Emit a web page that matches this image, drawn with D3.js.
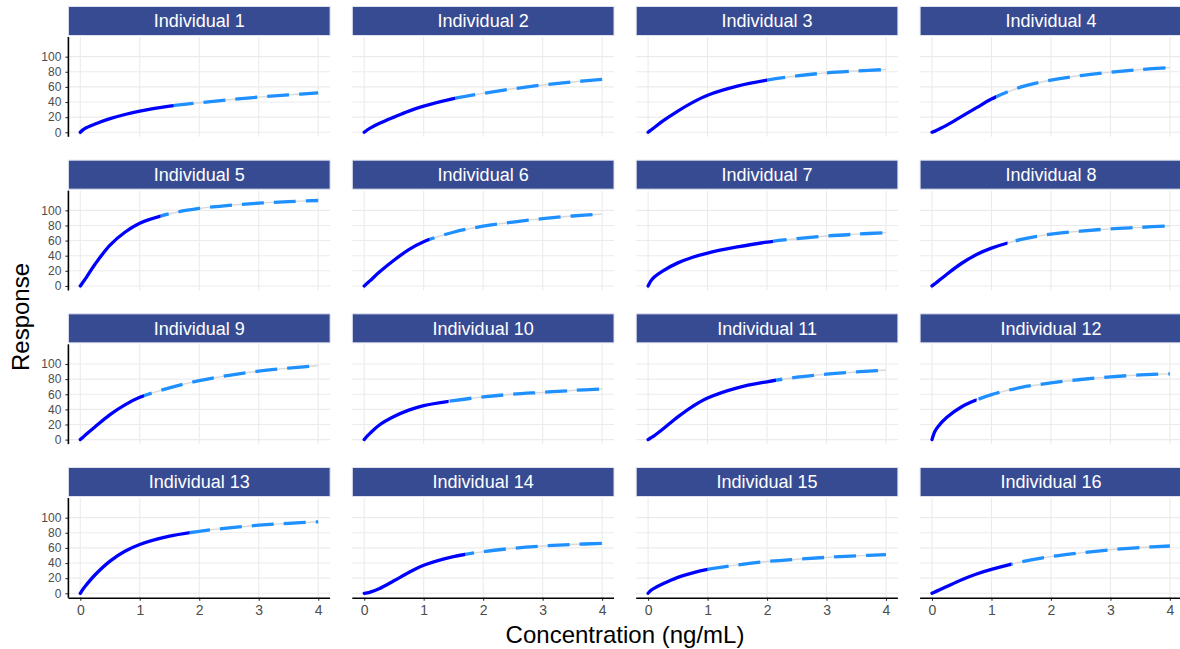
<!DOCTYPE html>
<html lang="en">
  <head>
    <meta charset="UTF-8" />
    <title>Concentration response by individual</title>
    <script src="https://d3js.org/d3.v7.min.js"></script>
    <style>
      body {
        margin: 0;
        background: #ffffff;
      }
      svg text {
        font-family: "Liberation Sans", Arial, sans-serif;
      }
    </style>
  </head>
  <body>
    <div id="chart"></div>
    <script>
      // concentrations the curves were read at (ng/mL)
      const conc = [0, 0.05, 0.1, 0.25, 0.5, 0.75, 1, 1.5, 2, 2.5, 3, 3.5, 4];

      const individuals = d3.range(1, 17).map((i) => "Individual " + i);

      // response, one row per individual
      const responses = [
        [0, 3.5, 6, 11, 18, 23.5, 28, 34.5, 39, 43, 46.5, 49.5, 52],
        [0, 3, 5.5, 11.5, 20, 28, 34.5, 44.5, 51.5, 57.5, 62.5, 66.5, 70],
        [0, 3, 6, 15, 28, 39.5, 49, 61, 69, 74.5, 78.5, 81, 83],
        [0, 1.5, 3.5, 9.5, 21, 32.5, 44, 60, 69, 75, 79.5, 83, 85.5],
        [0, 5.5, 11, 29, 54, 71, 83, 95.5, 102.5, 106.5, 109.5, 111.5, 113],
        [0, 3.5, 7, 18, 34, 48, 58.5, 71, 79, 84.5, 89, 92.5, 95],
        [0, 7, 11.5, 20, 30.5, 38, 43.5, 51.5, 58, 62.5, 66, 68.5, 70.5],
        [0, 3, 6, 15.5, 30, 41.5, 50, 61.5, 68.5, 72.5, 75.5, 77.5, 79.5],
        [0, 3.5, 7, 17, 33, 46, 56, 68.5, 78, 85, 90.5, 94.5, 98],
        [0, 4.5, 8.5, 19, 30.5, 39, 45, 51.5, 56.5, 60, 62.5, 65, 67],
        [0, 2.5, 5, 14, 30, 44, 55, 68.5, 76.5, 82.5, 86.5, 89.5, 92],
        [0, 11, 17, 29.5, 43.5, 52.5, 59.5, 69, 75, 79.5, 83, 85.5, 87],
        [0, 6, 11, 24.5, 42.5, 55.5, 64.5, 75.5, 82, 86.5, 90, 92.5, 94.5],
        [0, 0.6, 1.6, 6, 16.5, 27.5, 37, 48.5, 55, 59.5, 62.5, 64.5, 66],
        [0, 4, 6.5, 12.5, 21, 27, 31.5, 37.5, 42, 45, 47.5, 49.5, 51],
        [0, 1.8, 3.5, 9, 18, 25.5, 31.5, 41.5, 48.5, 53.5, 57.5, 60.5, 62.5],
      ];

      // concentration where the observed (solid) part ends
      const cutoffs = [
        1.57, 1.53, 2.0, 1.08, 1.35, 1.1, 2.1, 1.27, 1.07, 1.42, 2.15, 0.75,
        1.84, 1.7, 1.0, 1.33,
      ];

      const xTicks = [0, 1, 2, 3, 4];
      const yTicks = [0, 20, 40, 60, 80, 100];

      const width = 1180;
      const height = 649;

      const panelW = 261.7;
      const panelH = 99.8;
      const colStep = 283.9;
      const rowStep = 153.67;
      const left0 = 68.4;
      const top0 = 37;
      const stripH = 29;
      const nCols = 4;

      const svg = d3
        .select("#chart")
        .append("svg")
        .attr("width", width)
        .attr("height", height);

      const x = d3.scaleLinear().domain([-0.2, 4.2]).range([0, panelW]);
      const y = d3.scaleLinear().domain([-6, 126]).range([panelH, 0]);

      const line = d3
        .line()
        .x((d) => x(d[0]))
        .y((d) => y(d[1]))
        .curve(d3.curveCatmullRom.alpha(0.5));

      const defs = svg.append("defs");

      individuals.forEach((name, i) => {
        const col = i % nCols;
        const row = Math.floor(i / nCols);
        const px = left0 + col * colStep;
        const py = top0 + row * rowStep;
        const pts = conc.map((c, j) => [c, responses[i][j]]);

        const g = svg.append("g").attr("transform", `translate(${px},${py})`);

        // grid
        g.selectAll(".hgrid")
          .data(yTicks)
          .enter()
          .append("line")
          .attr("x1", 0)
          .attr("x2", panelW)
          .attr("y1", (d) => y(d))
          .attr("y2", (d) => y(d))
          .attr("stroke", "#ebebeb")
          .attr("stroke-width", 1.1);
        g.selectAll(".vgrid")
          .data(xTicks)
          .enter()
          .append("line")
          .attr("x1", (d) => x(d))
          .attr("x2", (d) => x(d))
          .attr("y1", 0)
          .attr("y2", panelH)
          .attr("stroke", "#ebebeb")
          .attr("stroke-width", 1.1);

        // strip
        g.append("rect")
          .attr("x", 0)
          .attr("y", -stripH - 1.5)
          .attr("width", panelW)
          .attr("height", stripH)
          .attr("fill", "#374b93")
          .attr("stroke", "#dfe3ee")
          .attr("stroke-width", 1);
        g.append("text")
          .attr("x", panelW / 2)
          .attr("y", -stripH / 2 - 1.5)
          .attr("dy", "0.36em")
          .attr("text-anchor", "middle")
          .attr("fill", "#ffffff")
          .attr("font-size", 18)
          .text(name);

        // clip regions: solid part up to cutoff, dashed after
        const cx = x(cutoffs[i]);
        defs
          .append("clipPath")
          .attr("id", "solid" + i)
          .append("rect")
          .attr("x", -10)
          .attr("y", -10)
          .attr("width", cx + 10)
          .attr("height", panelH + 20);
        defs
          .append("clipPath")
          .attr("id", "dash" + i)
          .append("rect")
          .attr("x", cx)
          .attr("y", -10)
          .attr("width", panelW - cx + 10)
          .attr("height", panelH + 20);

        g.append("path")
          .datum(pts)
          .attr("d", line)
          .attr("fill", "none")
          .attr("stroke", "#d9d9d9")
          .attr("stroke-width", 1.4);

        g.append("path")
          .datum(pts)
          .attr("d", line)
          .attr("clip-path", `url(#dash${i})`)
          .attr("fill", "none")
          .attr("stroke", "#1e90ff")
          .attr("stroke-width", 3.3)
          .attr("stroke-dasharray", "22,10");

        g.append("path")
          .datum(pts)
          .attr("d", line)
          .attr("clip-path", `url(#solid${i})`)
          .attr("fill", "none")
          .attr("stroke", "#0000ff")
          .attr("stroke-width", 3.3)
          .attr("stroke-linecap", "round");

        // y axis on first column
        if (col === 0) {
          const ya = g
            .append("g")
            .call(d3.axisLeft(y).tickValues(yTicks).tickSize(3).tickPadding(4));
          ya.select(".domain").remove();
          ya.selectAll(".tick line").attr("stroke", "#333333").attr("stroke-width", 1.1);
          ya.selectAll(".tick text")
            .attr("fill", "#4d4d4d")
            .attr("font-size", 12)
            .style("font-family", '"Liberation Sans", Arial, sans-serif');
          g.append("line")
            .attr("x1", 0)
            .attr("x2", 0)
            .attr("y1", 0)
            .attr("y2", panelH)
            .attr("stroke", "#000000")
            .attr("stroke-width", 1.6);
        }

        // x axis on bottom row
        if (row === 3) {
          const xa = g
            .append("g")
            .attr("transform", `translate(0,${panelH})`)
            .call(
              d3
                .axisBottom(x)
                .tickValues(xTicks)
                .tickFormat(d3.format("d"))
                .tickSize(3)
                .tickPadding(4)
            );
          xa.select(".domain").remove();
          xa.selectAll(".tick line").attr("stroke", "#333333").attr("stroke-width", 1.1);
          xa.selectAll(".tick text")
            .attr("fill", "#4d4d4d")
            .attr("font-size", 14)
            .style("font-family", '"Liberation Sans", Arial, sans-serif');
          g.append("line")
            .attr("x1", 0)
            .attr("x2", panelW)
            .attr("y1", panelH + 0.5)
            .attr("y2", panelH + 0.5)
            .attr("stroke", "#000000")
            .attr("stroke-width", 1.6);
        }
      });

      // axis titles
      svg
        .append("text")
        .attr("x", 625)
        .attr("y", 643)
        .attr("text-anchor", "middle")
        .attr("font-size", 24)
        .attr("fill", "#000000")
        .text("Concentration (ng/mL)");

      svg
        .append("text")
        .attr("transform", "translate(29,317) rotate(-90)")
        .attr("text-anchor", "middle")
        .attr("font-size", 24)
        .attr("fill", "#000000")
        .text("Response");
    </script>
  </body>
</html>
